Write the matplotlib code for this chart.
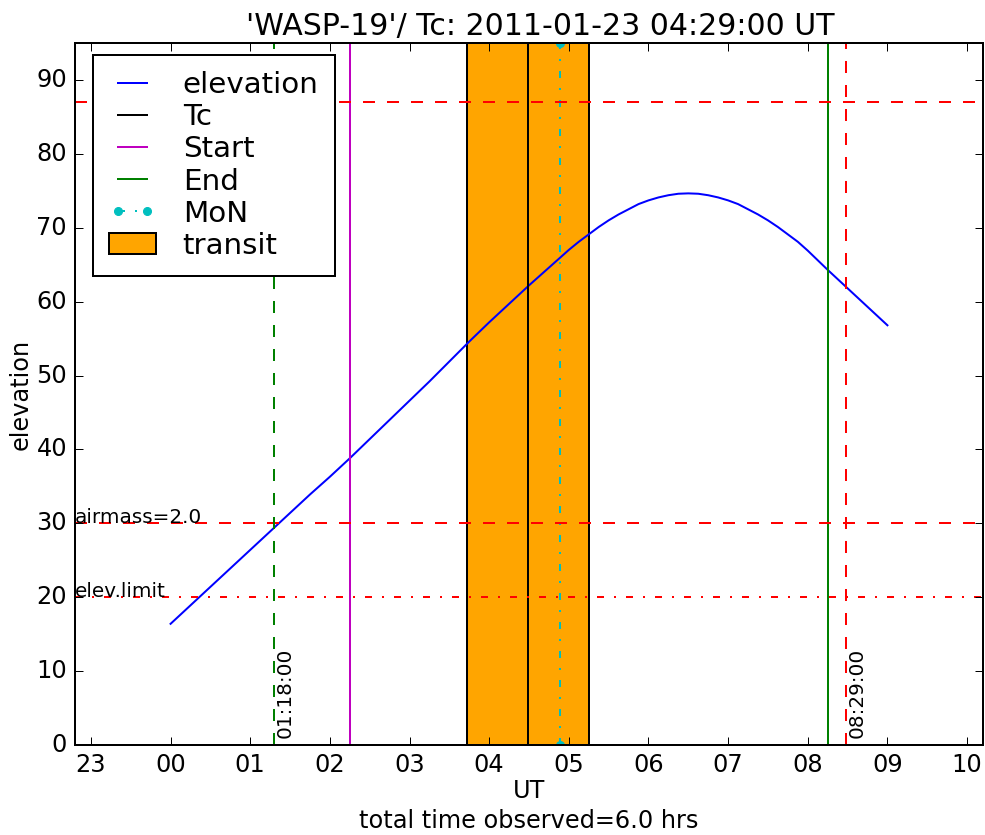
import matplotlib
matplotlib.use('Agg')
import matplotlib.pyplot as plt
from matplotlib.ticker import FixedLocator, FuncFormatter, MultipleLocator

plt.style.use('classic')

# hours after 00:00 UT on 2011-01-23
hours = [0.00, 0.25, 0.50, 0.75, 1.00, 1.25, 1.50, 1.75, 2.00, 2.25,
         2.50, 2.75, 3.00, 3.25, 3.50, 3.75, 4.00, 4.25, 4.50, 4.75,
         5.000, 5.125, 5.250, 5.375, 5.500, 5.625, 5.750, 5.875,
         6.000, 6.125, 6.250, 6.375, 6.500, 6.625, 6.750, 6.875,
         7.000, 7.125, 7.250, 7.375, 7.500, 7.625, 7.750, 7.875,
         8.00, 8.25, 8.50, 8.75, 9.00]
elevation = [16.4, 18.9, 21.4, 23.9, 26.4, 28.9, 31.4, 33.9, 36.3, 38.8,
             41.4, 44.0, 46.6, 49.2, 51.9, 54.6, 57.2, 59.7, 62.2, 64.6,
             67.0, 68.1, 69.1, 70.1, 71.0, 71.8, 72.5, 73.2,
             73.7, 74.1, 74.4, 74.6, 74.65, 74.6, 74.4, 74.1,
             73.7, 73.2, 72.5, 71.8, 71.0, 70.1, 69.1, 68.1,
             66.9, 64.3, 61.8, 59.3, 56.8]

tc = 4 + 29 / 60.
ingress = 3.716
egress = 5.25
obs_start = 2.25
obs_end = 8.25
moon_time = 4.89
airmass2_time = 1 + 18 / 60.
late_time = 8 + 29 / 60.
max_elev = 87.0
airmass2_elev = 30.0
elev_limit = 20.0

dashdot = (3.5, 5, 1, 5)

fig = plt.figure(figsize=(985 / 144., 835 / 144.), dpi=144)
ax = fig.add_axes([75 / 985., 90 / 835., 908 / 985., 702 / 835.])

ax.plot(hours, elevation, 'b-', label='elevation')
ax.axvspan(ingress, egress, facecolor='orange', edgecolor='k', linewidth=1.0,
           label='transit', zorder=0)
ax.axvline(tc, color='k', label='Tc')
ax.axvline(obs_start, color='m', label='Start')
ax.axvline(obs_end, color='g', label='End')
ax.plot([moon_time, moon_time], [0, 95], color='c', dashes=dashdot, marker='o',
        markeredgecolor='c', markersize=4, label='MoN', zorder=1)

ax.axhline(max_elev, color='r', linestyle='--')
ax.axhline(airmass2_elev, color='r', linestyle='--')
ax.axhline(elev_limit, color='r', dashes=dashdot)
ax.axvline(airmass2_time, color='g', linestyle='--')
ax.axvline(late_time, color='r', linestyle='--')

ax.text(-1.2, airmass2_elev, 'airmass=2.0', fontsize=10, va='baseline')
ax.text(-1.2, elev_limit, 'elev.limit', fontsize=10, va='baseline')
ax.text(airmass2_time + 0.02, 1, '01:18:00', fontsize=10, rotation=90,
        ha='left', va='bottom')
ax.text(late_time + 0.02, 1, '08:29:00', fontsize=10, rotation=90,
        ha='left', va='bottom')

ax.set_xlim(-1.2, 10.2)
ax.set_ylim(0, 95)
ax.xaxis.set_major_locator(FixedLocator(range(-1, 11)))
ax.xaxis.set_major_formatter(FuncFormatter(lambda v, pos: '%02d' % (int(round(v)) % 24)))
ax.yaxis.set_major_locator(MultipleLocator(10))

ax.set_title("'WASP-19'/ Tc: 2011-01-23 04:29:00 UT", fontsize=15, pad=4)
ax.title.set_x(0.512)
ax.set_xlabel('UT\ntotal time observed=6.0 hrs', labelpad=1, linespacing=1.3)
ax.set_ylabel('elevation', labelpad=2)

handles, labels = ax.get_legend_handles_labels()
order = ['elevation', 'Tc', 'Start', 'End', 'MoN', 'transit']
hl = dict(zip(labels, handles))
ax.legend([hl[k] for k in order], order, loc='upper left',
          bbox_to_anchor=(18 / 908., 690 / 702.), borderaxespad=0,
          fontsize=14.7, handlelength=1.6, handletextpad=0.9,
          labelspacing=0.14, numpoints=2, borderpad=0.55, fancybox=False)

fig.savefig('out.png', dpi=144)
